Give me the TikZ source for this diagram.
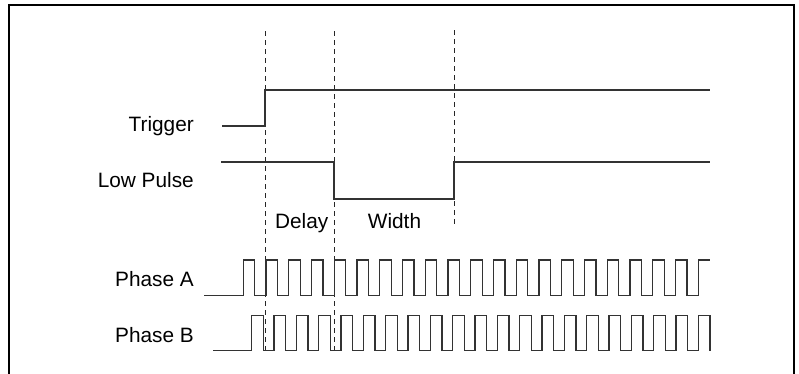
\documentclass[tikz,border=0pt]{standalone}
\usepackage{fontspec}
\setmainfont{Liberation Sans}
\begin{document}
\begin{tikzpicture}[x=1pt,y=-1pt,
  lbl/.style={font=\fontsize{20.8}{24}\selectfont, inner sep=0pt},
  sig/.style={line width=1.2pt, draw=black!80, line join=miter},
  guide/.style={line width=1pt, draw=black!85, dash pattern=on 5pt off 4pt},
  frame/.style={line width=2pt, draw=black}]
\useasboundingbox (0,0) rectangle (799,373);
\draw[frame] (9,380) -- (9,5) -- (794,5) -- (794,380);
% labels
\node[lbl, anchor=base east] (trig) at (194,131.5) {Trigger};
\node[lbl, anchor=base east] (lowp) at (194,187.5) {Low Pulse};
\node[lbl, anchor=base east] (pha) at (194,286) {Phase A};
\node[lbl, anchor=base east] (phb) at (194,342) {Phase B};
\node[lbl, anchor=base] (delay) at (301.7,228) {Delay};
\node[lbl, anchor=base] (width) at (394.5,228) {Width};
% guide lines
\coordinate (g1t) at (265,31); \coordinate (g1b) at (265,353);
\coordinate (g2t) at (334,31); \coordinate (g2b) at (334,353);
\coordinate (g3t) at (454,30); \coordinate (g3b) at (454,227);
\draw[guide] (g1t) -- (g1b);
\draw[guide] (g2t) -- (g2b);
\draw[guide] (g3t) -- (g3b);
% trigger
\draw[sig] (222,126) -- (265,126) -- (265,90) -- (710,90);
% low pulse
\draw[sig] (221,162) -- (334,162) -- (334,199) -- (454,199) -- (454,162) -- (710,162);
% phase A
\draw[sig] (204,295.5) -- (243.3,295.5)
  \foreach \k in {1,...,20} { -- ++(0,-35.5) -- ++(11.5,0) -- ++(0,35.5) -- ++(11.25,0) }
  -- ++(0,-35.5) -- (710,260);
% phase B
\draw[sig] (213,350.7) -- (251.7,350.7)
  \foreach \k in {1,...,20} { -- ++(0,-35) -- ++(11.6,0) -- ++(0,35) -- ++(10.73,0) }
  -- ++(0,-35) -- ++(11.7,0) -- ++(0,35);
\end{tikzpicture}
\end{document}
